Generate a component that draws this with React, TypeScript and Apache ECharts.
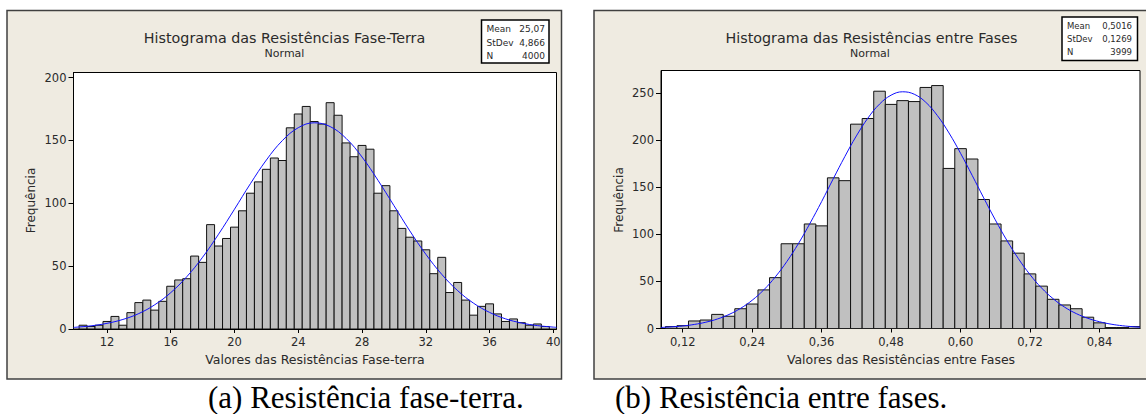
import React, { useEffect, useRef } from "react";
import * as echarts from "echarts";

// ---------- Data ----------
// Left histogram: Resistências Fase-Terra (bin width 0.5)
const leftBinCenters = [
  10.5, 11, 11.5, 12, 12.5, 13, 13.5, 14, 14.5, 15, 15.5, 16, 16.5, 17, 17.5,
  18, 18.5, 19, 19.5, 20, 20.5, 21, 21.5, 22, 22.5, 23, 23.5, 24, 24.5, 25,
  25.5, 26, 26.5, 27, 27.5, 28, 28.5, 29, 29.5, 30, 30.5, 31, 31.5, 32, 32.5,
  33, 33.5, 34, 34.5, 35, 35.5, 36, 36.5, 37, 37.5, 38, 38.5, 39, 39.5,
];
const leftCounts = [
  3, 2, 3, 6, 10, 3, 13, 21, 23, 15, 22, 34, 39, 40, 58,
  53, 83, 66, 72, 81, 94, 108, 117, 127, 136, 134, 160, 171, 177, 165,
  163, 180, 170, 148, 137, 146, 143, 108, 114, 94, 80, 73, 70, 63, 44,
  57, 29, 37, 23, 11, 18, 20, 12, 6, 8, 5, 3, 4, 2,
];
const leftCurveX = [
  9.9, 10, 11, 12, 13, 14, 15, 16, 17, 18, 19, 20, 21, 22, 23, 24, 25, 26, 27,
  28, 29, 30, 31, 32, 33, 34, 35, 36, 37, 38, 39, 40, 40.2,
];
const leftCurveY = [
  1.2, 1.35, 2.5, 4.5, 7.6, 12.3, 19.3, 28.9, 41.5, 57.1, 75.4, 95.3, 115.6,
  134.4, 149.8, 160.1, 164.0, 161.0, 151.6, 136.8, 118.3, 98.2, 78.0, 59.5,
  43.5, 30.5, 20.5, 13.2, 8.1, 4.8, 2.7, 1.5, 1.3,
];
const leftXTicks = [12, 16, 20, 24, 28, 32, 36, 40];
const leftYTicks = [0, 50, 100, 150, 200];
const leftStats = [
  ["Mean", "25,07"],
  ["StDev", "4,866"],
  ["N", "4000"],
];

// Right histogram: Resistências entre Fases (bin width 0.02)
const rightBinCenters = [
  0.1, 0.12, 0.14, 0.16, 0.18, 0.2, 0.22, 0.24, 0.26, 0.28, 0.3, 0.32, 0.34,
  0.36, 0.38, 0.4, 0.42, 0.44, 0.46, 0.48, 0.5, 0.52, 0.54, 0.56, 0.58, 0.6,
  0.62, 0.64, 0.66, 0.68, 0.7, 0.72, 0.74, 0.76, 0.78, 0.8, 0.82, 0.84, 0.86,
  0.88, 0.9,
];
const rightCounts = [
  2, 3, 8, 9, 15, 13, 21, 26, 41, 54, 90, 90, 111,
  109, 160, 157, 217, 223, 252, 238, 242, 241, 256, 258, 170, 191,
  180, 137, 111, 93, 80, 58, 45, 31, 25, 21, 12, 6, 1,
  1, 2,
];
const rightCurveX = [
  0.0825, 0.1, 0.12, 0.14, 0.16, 0.18, 0.2, 0.22, 0.24, 0.26, 0.28, 0.3, 0.32,
  0.34, 0.36, 0.38, 0.4, 0.42, 0.44, 0.46, 0.48, 0.5, 0.52, 0.54, 0.56, 0.58,
  0.6, 0.62, 0.64, 0.66, 0.68, 0.7, 0.72, 0.74, 0.76, 0.78, 0.8, 0.82, 0.84,
  0.86, 0.88, 0.9, 0.91,
];
const rightCurveY = [
  1.1, 1.7, 2.7, 4.3, 6.7, 10.1, 14.9, 21.4, 30.0, 41.0, 54.8, 71.2, 90.3,
  111.8, 134.8, 158.9, 182.5, 204.5, 223.5, 238.3, 247.8, 251.4, 248.8, 240.2,
  226.1, 207.7, 186.1, 162.7, 138.7, 115.4, 93.6, 74.1, 57.2, 43.0, 31.6, 22.6,
  15.8, 10.8, 7.2, 4.6, 2.9, 1.8, 1.4,
];
const rightXTicks = [0.12, 0.24, 0.36, 0.48, 0.6, 0.72, 0.84];
const rightYTicks = [0, 50, 100, 150, 200, 250];
const rightStats = [
  ["Mean", "0,5016"],
  ["StDev", "0,1269"],
  ["N", "3999"],
];

const leftTitle = "Histograma das Resistências Fase-Terra";
const rightTitle = "Histograma das Resistências entre Fases";
const subTitle = "Normal";
const yName = "Frequência";
const leftXName = "Valores das Resistências Fase-terra";
const rightXName = "Valores das Resistências entre Fases";
const leftCaption = "(a) Resistência fase-terra.";
const rightCaption = "(b) Resistência entre fases.";

// ---------- Styling ----------
const FONT = "DejaVu Sans";
const TXT = "#2a2a2a";
const PANEL_BG = "#EFEBE1";
const PANEL_BORDER = "#404040";
const BAR_FILL = "#C0C0C0";

function zip(xs: number[], ys: number[]) {
  return xs.map((x, i) => [x, ys[i]]);
}

function histSeries(idx: number, centers: number[], counts: number[], width: number) {
  return {
    type: "custom",
    xAxisIndex: idx,
    yAxisIndex: idx,
    clip: true,
    z: 2,
    data: zip(centers, counts),
    renderItem: (params: any, api: any) => {
      const x = api.value(0);
      const y = api.value(1);
      const p1 = api.coord([x - width / 2, y]);
      const p2 = api.coord([x + width / 2, 0]);
      return {
        type: "rect",
        shape: { x: p1[0], y: p1[1], width: p2[0] - p1[0], height: p2[1] - p1[1] },
        style: { fill: BAR_FILL, stroke: "#111", lineWidth: 1 },
      };
    },
  };
}

function curveSeries(idx: number, xs: number[], ys: number[]) {
  return {
    type: "line",
    xAxisIndex: idx,
    yAxisIndex: idx,
    data: zip(xs, ys),
    smooth: 0.4,
    showSymbol: false,
    symbol: "none",
    z: 5,
    lineStyle: { color: "#1010FF", width: 1 },
  };
}

function xAxis(idx: number, min: number, max: number, ticks: number[], fmt: (v: number) => string) {
  return {
    type: "value",
    gridIndex: idx,
    min,
    max,
    splitLine: { show: false },
    axisLine: { show: true, onZero: false, lineStyle: { color: "#000", width: 1 } },
    axisTick: { show: true, length: 4, customValues: ticks, lineStyle: { color: "#000" } },
    axisLabel: {
      customValues: ticks,
      formatter: (v: number) => fmt(v),
      color: TXT,
      fontFamily: FONT,
      fontSize: 11.5,
      margin: 7,
      showMinLabel: true,
      showMaxLabel: true,
    },
  };
}

function yAxis(idx: number, max: number, ticks: number[]) {
  return {
    type: "value",
    gridIndex: idx,
    min: 0,
    max,
    splitLine: { show: false },
    axisLine: { show: true, lineStyle: { color: "#000", width: 1 } },
    axisTick: { show: true, length: 5, customValues: ticks, lineStyle: { color: "#000" } },
    axisLabel: {
      customValues: ticks,
      color: TXT,
      fontFamily: FONT,
      fontSize: 11.5,
      margin: 7,
    },
  };
}

function text(x: number, y: number, t: string, size: number, align = "center", extra: any = {}) {
  return {
    type: "text",
    x,
    y,
    z: 10,
    ...extra,
    style: {
      text: t,
      fontFamily: FONT,
      fontSize: size,
      fill: TXT,
      align,
      verticalAlign: "middle",
    },
  };
}

function statsBox(x: number, y: number, w: number, h: number, rows: string[][], labelX: number, valueX: number, rowYs: number[], size: number) {
  const els: any[] = [
    {
      type: "rect",
      z: 9,
      shape: { x, y, width: w, height: h },
      style: { fill: "#FFFFFF", stroke: "#000", lineWidth: 1.5 },
    },
  ];
  rows.forEach((r, i) => {
    els.push(text(labelX, rowYs[i], r[0], size, "left"));
    els.push(text(valueX, rowYs[i], r[1], size, "right"));
  });
  return els;
}

export default function App() {
  const ref = useRef<HTMLDivElement>(null);

  useEffect(() => {
    if (!ref.current) return;
    const chart = echarts.init(ref.current, undefined, { renderer: "svg" });

    const graphic: any[] = [
      // panels
      {
        type: "rect",
        z: -1,
        shape: { x: 7, y: 10.5, width: 554.5, height: 368.5 },
        style: { fill: PANEL_BG, stroke: PANEL_BORDER, lineWidth: 1.5 },
      },
      {
        type: "rect",
        z: -1,
        shape: { x: 594, y: 10.5, width: 560, height: 368.5 },
        style: { fill: PANEL_BG, stroke: PANEL_BORDER, lineWidth: 1.5 },
      },
      // titles
      text(284.5, 37.5, leftTitle, 14.3),
      text(284.5, 53.5, subTitle, 11),
      text(871.5, 37.5, rightTitle, 14.3),
      text(870, 53.5, subTitle, 11),
      // axis names
      text(31, 200.5, yName, 12, "center", { rotation: Math.PI / 2 }),
      text(618.5, 200, yName, 12, "center", { rotation: Math.PI / 2 }),
      text(315, 359, leftXName, 12.5),
      text(901, 359, rightXName, 12.5),
      // stats boxes
      ...statsBox(481.5, 20, 67.5, 43, leftStats, 486.5, 545, [29, 42.5, 56], 9),
      ...statsBox(1062, 17, 75.5, 43.5, rightStats, 1067, 1132, [25.7, 39.3, 52.3], 8.5),
      // captions
      {
        type: "text",
        x: 208,
        y: 397,
        z: 10,
        style: {
          text: leftCaption,
          fontFamily: "Liberation Serif",
          fontSize: 31,
          fill: "#000",
          align: "left",
          verticalAlign: "middle",
        },
      },
      {
        type: "text",
        x: 615,
        y: 397,
        z: 10,
        style: {
          text: rightCaption,
          fontFamily: "Liberation Serif",
          fontSize: 31,
          fill: "#000",
          align: "left",
          verticalAlign: "middle",
        },
      },
    ];

    chart.setOption({
      animation: false,
      backgroundColor: "#FFFFFF",
      grid: [
        {
          left: 73.5,
          top: 72.5,
          width: 483,
          height: 256.5,
          show: true,
          backgroundColor: "#FFFFFF",
          borderColor: "#000",
          borderWidth: 1,
        },
        {
          left: 661,
          top: 70.5,
          width: 479,
          height: 258,
          show: true,
          backgroundColor: "#FFFFFF",
          borderColor: "#000",
          borderWidth: 1,
        },
      ],
      xAxis: [
        xAxis(0, 9.9, 40.2, leftXTicks, (v) => String(v)),
        xAxis(1, 0.0825, 0.91, rightXTicks, (v) => v.toFixed(2).replace(".", ",")),
      ],
      yAxis: [yAxis(0, 204, leftYTicks), yAxis(1, 274, rightYTicks)],
      graphic,
      series: [
        histSeries(0, leftBinCenters, leftCounts, 0.5),
        curveSeries(0, leftCurveX, leftCurveY),
        histSeries(1, rightBinCenters, rightCounts, 0.02),
        curveSeries(1, rightCurveX, rightCurveY),
      ],
    });

    return () => chart.dispose();
  }, []);

  return (
    <div
      ref={ref}
      style={{ position: "fixed", left: 0, top: 0, width: 1146, height: 414, background: "#fff" }}
    />
  );
}
